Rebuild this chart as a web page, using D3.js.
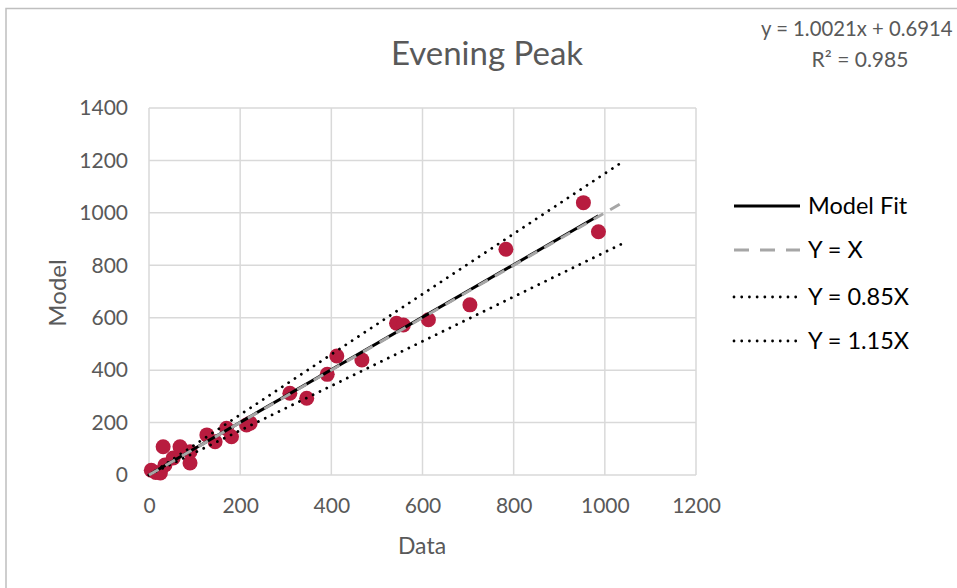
<!DOCTYPE html>
<html lang="en">
<head>
    <meta charset="UTF-8">
    <title>Evening Peak</title>
    <script src="https://cdn.jsdelivr.net/npm/d3@7"></script>
    <style>
        body { margin: 0; background: #fff; }
        text { font-family: Lato, "Open Sans", sans-serif; fill: #595959; }
    </style>
</head>
<body>
<div id="chart"></div>
<script>
    var dataX  = [5, 15, 25, 31, 35, 53, 68, 90, 90, 127, 145, 170, 181, 214, 222, 309, 346, 391, 412, 467, 543, 558, 613, 704, 783, 953, 986];
    var modelY = [18, 10, 8, 108, 38, 65, 108, 46, 89, 153, 127, 178, 146, 191, 198, 312, 293, 384, 454, 439, 579, 572, 592, 649, 861, 1039, 928];
    var xTicks = [0, 200, 400, 600, 800, 1000, 1200];
    var yTicks = [0, 200, 400, 600, 800, 1000, 1200, 1400];
    var refRange = [0, 1040];           // Y=X and +-15% lines
    var fitSlope = 1.0021, fitIntercept = 0.6914;
    var legendNames = ['Model Fit', 'Y = X', 'Y = 0.85X', 'Y = 1.15X'];

    var width = 957, height = 588;
    var svg = d3.select('#chart').append('svg').attr('width', width).attr('height', height);

    // chart border (right/bottom are cut off in the original)
    svg.append('path').attr('d', 'M6,600 V8.5 H960').attr('fill', 'none')
        .attr('stroke', '#bfbfbf').attr('stroke-width', 1.5);

    var x = d3.scaleLinear().domain([0, 1200]).range([149, 696]);
    var y = d3.scaleLinear().domain([0, 1400]).range([475, 108]);

    // gridlines
    svg.append('g').selectAll('line').data(xTicks).enter().append('line')
        .attr('x1', d => x(d)).attr('x2', d => x(d)).attr('y1', y(0)).attr('y2', y(1400))
        .attr('stroke', '#d9d9d9').attr('stroke-width', 1.5);
    svg.append('g').selectAll('line').data(yTicks).enter().append('line')
        .attr('x1', x(0)).attr('x2', x(1200)).attr('y1', d => y(d)).attr('y2', d => y(d))
        .attr('stroke', '#d9d9d9').attr('stroke-width', 1.5);

    // axes (labels only, Excel style)
    var xAxis = svg.append('g').attr('transform', 'translate(0,' + y(0) + ')')
        .call(d3.axisBottom(x).tickValues(xTicks).tickFormat(d3.format('d')).tickSize(0).tickPadding(23));
    var yAxis = svg.append('g').attr('transform', 'translate(' + x(0) + ',0)')
        .call(d3.axisLeft(y).tickValues(yTicks).tickFormat(d3.format('d')).tickSize(0).tickPadding(21));
    [xAxis, yAxis].forEach(function(a){
        a.select('.domain').remove();
        a.selectAll('text').style('font-size', '21px').attr('fill', '#595959')
            .style('font-family', 'Lato, sans-serif');
    });

    // points
    var pts = dataX.map((d, i) => [d, modelY[i]]);
    svg.append('g').selectAll('circle').data(pts).enter().append('circle')
        .attr('cx', d => x(d[0])).attr('cy', d => y(d[1])).attr('r', 7.5)
        .attr('fill', '#b81c3f');

    var line = d3.line().x(d => x(d[0])).y(d => y(d[1]));
    function refLine(k) { return refRange.map(v => [v, k * v]); }

    // +-15% dotted
    [0.85, 1.15].forEach(function(k){
        svg.append('path').datum(refLine(k)).attr('d', line).attr('fill', 'none')
            .attr('stroke', '#000').attr('stroke-width', 2.8)
            .attr('stroke-linecap', 'round').attr('stroke-dasharray', '0.01,7.6');
    });

    // model fit trendline over data range
    var fitPts = d3.extent(dataX).map(v => [v, fitSlope * v + fitIntercept]);
    svg.append('path').datum(fitPts).attr('d', line).attr('fill', 'none')
        .attr('stroke', '#000').attr('stroke-width', 3);

    // Y = X
    svg.append('path').datum(refLine(1)).attr('d', line).attr('fill', 'none')
        .attr('stroke', '#a6a6a6').attr('stroke-width', 3).attr('stroke-dasharray', '11,8');

    // title
    svg.append('text').attr('x', 487).attr('y', 65).attr('text-anchor', 'middle')
        .style('font-size', '33px').text('Evening Peak');

    // axis titles
    svg.append('text').attr('x', 422).attr('y', 554).attr('text-anchor', 'middle')
        .style('font-size', '23px').text('Data');
    svg.append('text').attr('transform', 'translate(66,293) rotate(-90)').attr('text-anchor', 'middle')
        .style('font-size', '24px').text('Model');

    // trendline equation
    svg.append('text').attr('x', 761).attr('y', 36).style('font-size', '20.3px')
        .text('y = ' + fitSlope.toFixed(4) + 'x + ' + fitIntercept.toFixed(4));
    svg.append('text').attr('x', 860).attr('y', 67).attr('text-anchor', 'middle').style('font-size', '21px')
        .text('R² = 0.985');

    // legend
    var legY = [206, 250, 297, 341];
    var leg = svg.append('g');
    legendNames.forEach(function(name, i){
        var l = leg.append('line').attr('x1', 734).attr('x2', 800).attr('y1', legY[i]).attr('y2', legY[i]);
        if (i == 0) l.attr('stroke', '#000').attr('stroke-width', 3);
        else if (i == 1) l.attr('stroke', '#a6a6a6').attr('stroke-width', 3).attr('stroke-dasharray', '15,11');
        else l.attr('stroke', '#000').attr('stroke-width', 2.8).attr('stroke-linecap', 'round').attr('stroke-dasharray', '0.01,7.7');
        leg.append('text').attr('x', 808).attr('y', legY[i]).attr('dy', '0.35em')
            .style('font-size', '23.5px').style('fill', '#000').text(name);
    });
</script>
</body>
</html>
